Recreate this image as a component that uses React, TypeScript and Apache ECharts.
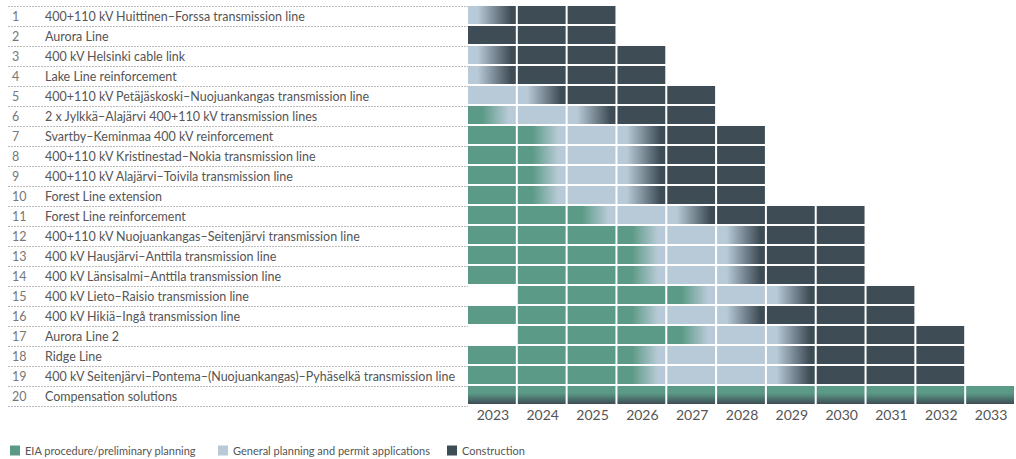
import React, { useEffect, useRef } from "react";
import * as echarts from "echarts";

const years = ["2023", "2024", "2025", "2026", "2027", "2028", "2029", "2030", "2031", "2032", "2033"];

const projects = [
  "400+110 kV Huittinen–Forssa transmission line",
  "Aurora Line",
  "400 kV Helsinki cable link",
  "Lake Line reinforcement",
  "400+110 kV Petäjäskoski–Nuojuankangas transmission line",
  "2 x Jylkkä–Alajärvi 400+110 kV transmission lines",
  "Svartby–Keminmaa 400 kV reinforcement",
  "400+110 kV Kristinestad–Nokia transmission line",
  "400+110 kV Alajärvi–Toivila transmission line",
  "Forest Line extension",
  "Forest Line reinforcement",
  "400+110 kV Nuojuankangas–Seitenjärvi transmission line",
  "400 kV Hausjärvi–Anttila transmission line",
  "400 kV Länsisalmi–Anttila transmission line",
  "400 kV Lieto–Raisio transmission line",
  "400 kV Hikiä–Ingå transmission line",
  "Aurora Line 2",
  "Ridge Line",
  "400 kV Seitenjärvi–Pontema–(Nuojuankangas)–Pyhäselkä transmission line",
  "Compensation solutions",
];

// first year of each project's timeline
const startYears = [2023, 2023, 2023, 2023, 2023, 2023, 2023, 2023, 2023, 2023,
  2023, 2023, 2023, 2023, 2024, 2023, 2024, 2023, 2023, 2023];

// phase of each yearly cell: E = EIA, G = general planning, C = construction,
// EG / GC = transition during the year, X = compensation (ongoing)
const phases: string[][] = [
  ["GC", "C", "C"],
  ["C", "C", "C"],
  ["GC", "C", "C", "C"],
  ["GC", "C", "C", "C"],
  ["G", "GC", "C", "C", "C"],
  ["EG", "G", "GC", "C", "C"],
  ["E", "EG", "G", "GC", "C", "C"],
  ["E", "EG", "G", "GC", "C", "C"],
  ["E", "EG", "G", "GC", "C", "C"],
  ["E", "EG", "G", "GC", "C", "C"],
  ["E", "E", "EG", "G", "GC", "C", "C", "C"],
  ["E", "E", "E", "EG", "G", "GC", "C", "C"],
  ["E", "E", "E", "EG", "G", "GC", "C", "C"],
  ["E", "E", "E", "EG", "G", "GC", "C", "C"],
  ["E", "E", "E", "EG", "G", "GC", "C", "C"],
  ["E", "E", "E", "EG", "G", "GC", "C", "C", "C"],
  ["E", "E", "E", "EG", "G", "GC", "C", "C", "C"],
  ["E", "E", "E", "EG", "G", "G", "GC", "C", "C", "C"],
  ["E", "E", "E", "EG", "G", "G", "GC", "C", "C", "C"],
  ["X", "X", "X", "X", "X", "X", "X", "X", "X", "X", "X"],
];

const legendNames = [
  "EIA procedure/preliminary planning",
  "General planning and permit applications",
  "Construction",
];

const GREEN = "#5b9a86";
const LIGHT = "#b8cad7";
const DARK = "#3e4c56";
const FONT = "Lato";

function fillFor(code: string): any {
  switch (code) {
    case "E":
      return GREEN;
    case "G":
      return LIGHT;
    case "C":
      return DARK;
    case "EG":
      return new echarts.graphic.LinearGradient(0, 0, 1, 0, [
        { offset: 0, color: GREEN },
        { offset: 0.3, color: GREEN },
        { offset: 0.85, color: LIGHT },
        { offset: 1, color: LIGHT },
      ]);
    case "GC":
      return new echarts.graphic.LinearGradient(0, 0, 1, 0, [
        { offset: 0, color: LIGHT },
        { offset: 0.2, color: LIGHT },
        { offset: 0.9, color: DARK },
        { offset: 1, color: DARK },
      ]);
    case "X":
      return new echarts.graphic.LinearGradient(0, 0, 0, 1, [
        { offset: 0, color: GREEN },
        { offset: 0.4, color: GREEN },
        { offset: 1, color: DARK },
      ]);
  }
  return "#fff";
}

const codes = ["E", "G", "C", "EG", "GC", "X"];

export default function App() {
  const ref = useRef<HTMLDivElement>(null);
  useEffect(() => {
    document.body.style.margin = "0";
    const chart = echarts.init(ref.current!, null, { renderer: "svg" });
    const cells: number[][] = [];
    phases.forEach((row, r) => {
      const s = years.indexOf(String(startYears[r]));
      row.forEach((code, k) => {
        cells.push([s + k, r, codes.indexOf(code)]);
      });
    });
    const top = 6;
    const bottom = 53;
    chart.setOption({
      animation: false,
      textStyle: { fontFamily: FONT },
      grid: [
        { left: 468, right: 0, top, bottom },
        { left: 8, width: 460, top, bottom },
      ],
      xAxis: [
        {
          type: "category",
          gridIndex: 0,
          data: years,
          axisLine: { show: false },
          axisTick: { show: false },
          axisLabel: { color: "#555", fontSize: 14, margin: 1, fontFamily: FONT },
        },
        { type: "value", gridIndex: 1, show: false },
      ],
      yAxis: [
        {
          type: "category",
          gridIndex: 0,
          inverse: true,
          data: projects,
          show: false,
        },
        {
          type: "category",
          gridIndex: 1,
          inverse: true,
          data: projects,
          axisLine: { show: false },
          axisTick: { show: false },
          splitLine: {
            show: true,
            lineStyle: { color: "#bbb", type: [2, 1], width: 1 },
          },
          axisLabel: {
            inside: true,
            margin: 4,
            color: "#555",
            fontSize: 12.5,
            fontFamily: FONT,
            formatter: (v: string, i: number) => `{n|${i + 1}}{t|${v}}`,
            rich: {
              n: { width: 33, fontSize: 12.5, color: "#777", fontFamily: FONT },
              t: { fontSize: 12.5, color: "#555", fontFamily: FONT },
            },
          },
        },
      ],
      legend: legendNames.map((n, i) => ({
        data: [n],
        left: [10, 218, 447][i],
        top: 445,
        padding: 0,
        icon: "rect",
        itemWidth: 10,
        itemHeight: 10,
        selectedMode: false,
        textStyle: { color: "#555", fontSize: 11, fontFamily: FONT },
      })),
      series: [
        {
          type: "custom",
          xAxisIndex: 0,
          yAxisIndex: 0,
          data: cells,
          renderItem: (params: any, api: any) => {
            const c = api.coord([api.value(0), api.value(1)]);
            const sz = api.size([1, 1]);
            const code = codes[api.value(2)];
            return {
              type: "rect",
              shape: { x: c[0] - sz[0] / 2, y: c[1] - sz[1] / 2, width: sz[0] - 2, height: sz[1] - 2 },
              style: { fill: fillFor(code) },
            };
          },
        },
        { name: legendNames[0], type: "bar", data: [], itemStyle: { color: GREEN } },
        { name: legendNames[1], type: "bar", data: [], itemStyle: { color: LIGHT } },
        { name: legendNames[2], type: "bar", data: [], itemStyle: { color: DARK } },
      ],
    });
    return () => chart.dispose();
  }, []);
  return <div ref={ref} style={{ width: 1016, height: 459 }} />;
}
